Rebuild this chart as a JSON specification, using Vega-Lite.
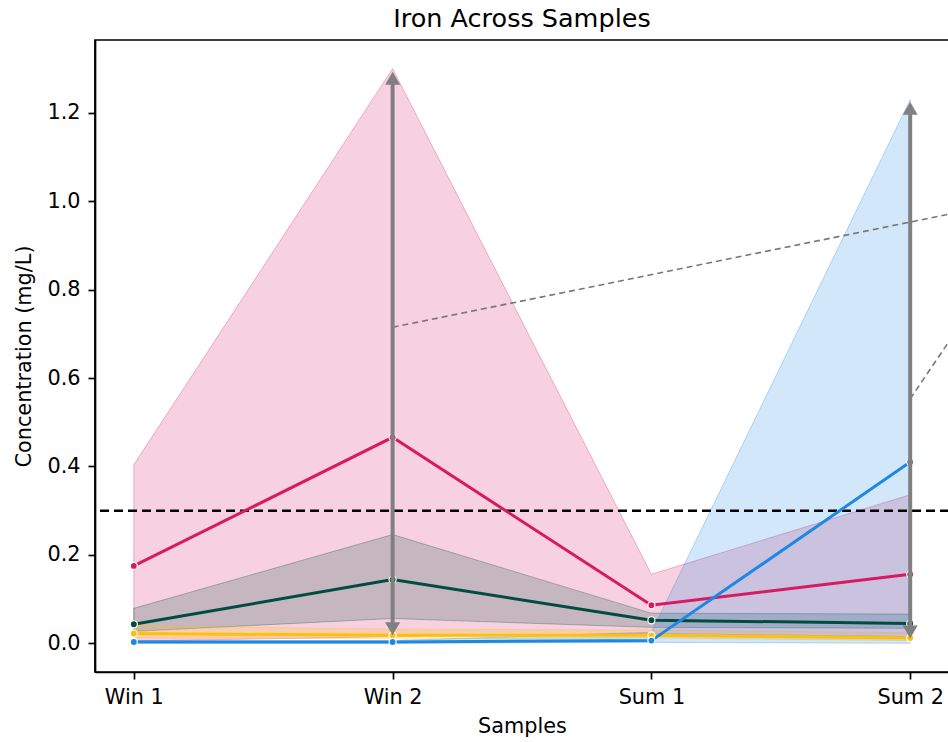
{
  "$schema": "https://vega.github.io/schema/vega-lite/v6.json",
  "width": 854,
  "height": 632,
  "autosize": {"type": "none"},
  "padding": {"left": 95, "top": 40, "right": 0, "bottom": 70},
  "background": "white",
  "title": {
    "text": "Iron Across Samples",
    "fontSize": 25.5,
    "fontWeight": "normal",
    "font": "DejaVu Sans",
    "color": "black",
    "offset": 8,
    "anchor": "middle"
  },
  "config": {
    "font": "DejaVu Sans",
    "view": {"stroke": "black", "strokeWidth": 1.7},
    "axis": {
      "grid": false,
      "domainColor": "black",
      "domainWidth": 1.7,
      "tickColor": "black",
      "tickWidth": 1.7,
      "tickSize": 7,
      "labelPadding": 8,
      "labelFont": "DejaVu Sans",
      "labelFontSize": 20.8,
      "labelColor": "black",
      "titleFont": "DejaVu Sans",
      "titleFontSize": 20.8,
      "titleFontWeight": "normal",
      "titleColor": "black"
    }
  },
  "datasets": {
    "series": [
      {"series": "Site A", "x": 0, "mean": 0.175, "lo": 0.005, "hi": 0.404},
      {"series": "Site A", "x": 1, "mean": 0.466, "lo": 0.015, "hi": 1.300},
      {"series": "Site A", "x": 2, "mean": 0.086, "lo": 0.022, "hi": 0.156},
      {"series": "Site A", "x": 3, "mean": 0.156, "lo": 0.015, "hi": 0.336},
      {"series": "Site B", "x": 0, "mean": 0.043, "lo": 0.027, "hi": 0.079},
      {"series": "Site B", "x": 1, "mean": 0.144, "lo": 0.056, "hi": 0.246},
      {"series": "Site B", "x": 2, "mean": 0.052, "lo": 0.036, "hi": 0.068},
      {"series": "Site B", "x": 3, "mean": 0.045, "lo": 0.034, "hi": 0.066},
      {"series": "Site C", "x": 0, "mean": 0.022, "lo": 0.012, "hi": 0.040},
      {"series": "Site C", "x": 1, "mean": 0.018, "lo": 0.010, "hi": 0.032},
      {"series": "Site C", "x": 2, "mean": 0.018, "lo": 0.012, "hi": 0.030},
      {"series": "Site C", "x": 3, "mean": 0.012, "lo": 0.006, "hi": 0.024},
      {"series": "Site D", "x": 0, "mean": 0.003, "lo": 0.000, "hi": 0.006},
      {"series": "Site D", "x": 1, "mean": 0.003, "lo": 0.000, "hi": 0.006},
      {"series": "Site D", "x": 2, "mean": 0.006, "lo": 0.002, "hi": 0.025},
      {"series": "Site D", "x": 3, "mean": 0.410, "lo": 0.000, "hi": 1.230}
    ],
    "arrows": [
      {"x": 1, "lo": 0.018, "hi": 1.293, "shaft_lo": 0.045, "shaft_hi": 1.266},
      {"x": 3, "lo": 0.011, "hi": 1.225, "shaft_lo": 0.038, "shaft_hi": 1.198}
    ],
    "leaders": [
      {"id": "a", "x": 1, "y": 0.715},
      {"id": "a", "x": 3.15, "y": 0.971},
      {"id": "b", "x": 3, "y": 0.553},
      {"id": "b", "x": 3.15, "y": 0.683}
    ],
    "limit": [{"level": 0.3}]
  },
  "layer": [
    {
      "data": {"name": "series"},
      "mark": {"type": "area", "fillOpacity": 0.2, "strokeWidth": 1, "strokeOpacity": 0.3},
      "encoding": {
        "x": {
          "field": "x", "type": "quantitative", "title": "Samples",
          "scale": {"domain": [-0.15, 3.15], "nice": false, "zero": false},
          "axis": {"values": [0, 1, 2, 3], "labelExpr": "['Win 1', 'Win 2', 'Sum 1', 'Sum 2'][datum.value]", "titlePadding": 10}
        },
        "y": {
          "field": "lo", "type": "quantitative", "title": "Concentration (mg/L)",
          "scale": {"domain": [-0.065, 1.365], "nice": false, "zero": false},
          "axis": {"values": [0, 0.2, 0.4, 0.6, 0.8, 1.0, 1.2], "format": ".1f", "titlePadding": 12}
        },
        "y2": {"field": "hi"},
        "color": {
          "field": "series", "type": "nominal", "legend": null,
          "scale": {"domain": ["Site A", "Site B", "Site C", "Site D"], "range": ["#d81b60", "#004d40", "#ffc107", "#1e88e5"]}
        },
        "stroke": {
          "field": "series", "type": "nominal", "legend": null,
          "scale": {"domain": ["Site A", "Site B", "Site C", "Site D"], "range": ["#d81b60", "#004d40", "#ffc107", "#1e88e5"]}
        }
      }
    },
    {
      "data": {"name": "limit"},
      "mark": {"type": "rule", "color": "black", "strokeWidth": 2.6, "strokeDash": [9, 5]},
      "encoding": {
        "y": {"field": "level", "type": "quantitative", "title": "Concentration (mg/L)",
              "scale": {"domain": [-0.065, 1.365], "nice": false, "zero": false}}
      }
    },
    {
      "data": {"name": "series"},
      "mark": {"type": "line", "strokeWidth": 3},
      "encoding": {
        "x": {"field": "x", "type": "quantitative", "title": "Samples",
              "scale": {"domain": [-0.15, 3.15], "nice": false, "zero": false}},
        "y": {"field": "mean", "type": "quantitative", "title": "Concentration (mg/L)",
              "scale": {"domain": [-0.065, 1.365], "nice": false, "zero": false}},
        "color": {
          "field": "series", "type": "nominal", "legend": null,
          "scale": {"domain": ["Site A", "Site B", "Site C", "Site D"], "range": ["#d81b60", "#004d40", "#ffc107", "#1e88e5"]}
        }
      }
    },
    {
      "data": {"name": "series"},
      "mark": {"type": "point", "shape": "circle", "filled": true, "size": 50, "stroke": "white", "strokeWidth": 1.2, "opacity": 1},
      "encoding": {
        "x": {"field": "x", "type": "quantitative", "title": "Samples",
              "scale": {"domain": [-0.15, 3.15], "nice": false, "zero": false}},
        "y": {"field": "mean", "type": "quantitative", "title": "Concentration (mg/L)",
              "scale": {"domain": [-0.065, 1.365], "nice": false, "zero": false}},
        "fill": {
          "field": "series", "type": "nominal", "legend": null,
          "scale": {"domain": ["Site A", "Site B", "Site C", "Site D"], "range": ["#d81b60", "#004d40", "#ffc107", "#1e88e5"]}
        }
      }
    },
    {
      "data": {"name": "leaders"},
      "mark": {"type": "line", "color": "#777777", "strokeWidth": 1.6, "strokeDash": [6, 4], "clip": true},
      "encoding": {
        "x": {"field": "x", "type": "quantitative", "title": "Samples",
              "scale": {"domain": [-0.15, 3.15], "nice": false, "zero": false}},
        "y": {"field": "y", "type": "quantitative", "title": "Concentration (mg/L)",
              "scale": {"domain": [-0.065, 1.365], "nice": false, "zero": false}},
        "detail": {"field": "id", "type": "nominal"}
      }
    },
    {
      "data": {"name": "arrows"},
      "mark": {"type": "rule", "color": "#808080", "strokeWidth": 4},
      "encoding": {
        "x": {"field": "x", "type": "quantitative", "title": "Samples",
              "scale": {"domain": [-0.15, 3.15], "nice": false, "zero": false}},
        "y": {"field": "shaft_lo", "type": "quantitative", "title": "Concentration (mg/L)",
              "scale": {"domain": [-0.065, 1.365], "nice": false, "zero": false}},
        "y2": {"field": "shaft_hi"}
      }
    },
    {
      "data": {"name": "arrows"},
      "mark": {"type": "point", "shape": "triangle-up", "filled": true, "size": 225, "color": "#808080", "opacity": 1, "yOffset": 6.5},
      "encoding": {
        "x": {"field": "x", "type": "quantitative", "title": "Samples",
              "scale": {"domain": [-0.15, 3.15], "nice": false, "zero": false}},
        "y": {"field": "hi", "type": "quantitative", "title": "Concentration (mg/L)",
              "scale": {"domain": [-0.065, 1.365], "nice": false, "zero": false}}
      }
    },
    {
      "data": {"name": "arrows"},
      "mark": {"type": "point", "shape": "triangle-down", "filled": true, "size": 225, "color": "#808080", "opacity": 1, "yOffset": -6.5},
      "encoding": {
        "x": {"field": "x", "type": "quantitative", "title": "Samples",
              "scale": {"domain": [-0.15, 3.15], "nice": false, "zero": false}},
        "y": {"field": "lo", "type": "quantitative", "title": "Concentration (mg/L)",
              "scale": {"domain": [-0.065, 1.365], "nice": false, "zero": false}}
      }
    }
  ]
}
